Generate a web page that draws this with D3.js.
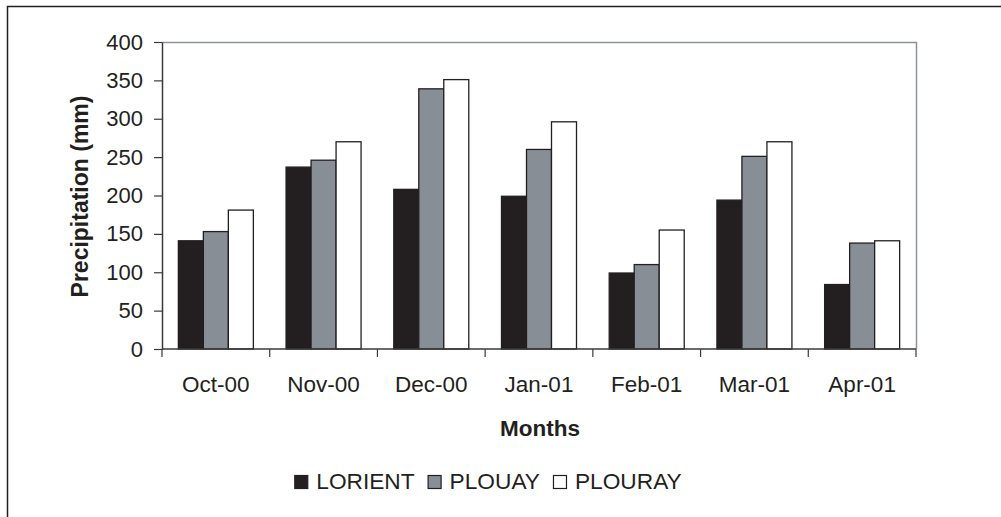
<!DOCTYPE html>
<html>
<head>
  <meta charset="utf-8">
  <script src="https://d3js.org/d3.v7.min.js"></script>
  <style>
    body { margin: 0; background: #fff; }
    text { font-family: "Liberation Sans", Arial, Helvetica, sans-serif; fill: #231f20; }
  </style>
</head>
<body>
  <div id="container"></div>
  <script>
    var months = ["Oct-00", "Nov-00", "Dec-00", "Jan-01", "Feb-01", "Mar-01", "Apr-01"];
    var series = ["LORIENT", "PLOUAY", "PLOURAY"];
    var lorient = [141, 237, 208, 199, 99, 194, 84];
    var plouay = [153, 246, 339, 260, 110, 251, 138];
    var plouray = [181, 270, 351, 296, 155, 270, 141];
    var yTicks = [0, 50, 100, 150, 200, 250, 300, 350, 400];

    var values = [lorient, plouay, plouray];
    var colors = ["#231f20", "#878e96", "#ffffff"];

    var w = 1001, h = 517;
    var pLeft = 162, pRight = 916, pTop = 42, pBottom = 349;
    var ink = "#231f20";

    var svg = d3.select("#container").append("svg")
      .attr("width", w).attr("height", h);

    // outer frame (top + left only visible)
    svg.append("path")
      .attr("d", "M7.5," + h + "V6.5H" + w)
      .attr("fill", "none").attr("stroke", ink).attr("stroke-width", 1.5);

    var x0 = d3.scaleBand().domain(months).range([pLeft, pRight]);
    var x1 = d3.scaleBand().domain(series).range([0, x0.bandwidth()]).paddingOuter(0.654);
    var y = d3.scaleLinear().domain([0, 400]).range([pBottom, pTop]);

    // plot area border top/right (grey)
    svg.append("path")
      .attr("d", "M" + pLeft + "," + (pTop + 0.5) + "H" + (pRight + 0.5) + "V" + pBottom)
      .attr("fill", "none").attr("stroke", "#8d949b").attr("stroke-width", 1.5);

    // bars
    var groups = svg.append("g").selectAll("g")
      .data(months)
      .join("g")
      .attr("transform", function(d) { return "translate(" + x0(d) + ",0)"; });

    groups.selectAll("rect")
      .data(function(d, i) {
        return series.map(function(s, j) { return { s: s, v: values[j][i], c: colors[j] }; });
      })
      .join("rect")
      .attr("x", function(d) { return x1(d.s); })
      .attr("y", function(d) { return y(d.v); })
      .attr("width", x1.bandwidth())
      .attr("height", function(d) { return y(0) - y(d.v); })
      .attr("fill", function(d) { return d.c; })
      .attr("stroke", ink)
      .attr("stroke-width", 1.3);

    // y axis
    var yAxis = svg.append("g")
      .attr("transform", "translate(" + pLeft + ",0)")
      .call(d3.axisLeft(y).tickValues(yTicks).tickSize(8).tickPadding(11).tickSizeOuter(0));
    yAxis.select(".domain").attr("stroke", "#3a3a3a").attr("stroke-width", 1.5);
    yAxis.selectAll(".tick line").attr("stroke", "#3a3a3a").attr("stroke-width", 1.2);
    yAxis.selectAll("text").style("font-size", "22px").attr("fill", ink)
      .style("font-family", "'Liberation Sans', Arial, sans-serif");

    // x axis: ticks at category boundaries
    var xAxis = svg.append("g").attr("transform", "translate(0," + pBottom + ")");
    xAxis.append("line")
      .attr("x1", pLeft).attr("x2", pRight)
      .attr("stroke", "#3a3a3a").attr("stroke-width", 1.5);
    var bounds = months.map(function(m) { return x0(m); }).concat([pRight]);
    xAxis.selectAll(".xt")
      .data(bounds)
      .join("line")
      .attr("class", "xt")
      .attr("x1", function(d) { return d; }).attr("x2", function(d) { return d; })
      .attr("y1", 0).attr("y2", 8)
      .attr("stroke", "#3a3a3a").attr("stroke-width", 1.2);
    xAxis.selectAll(".xl")
      .data(months)
      .join("text")
      .attr("class", "xl")
      .attr("x", function(d) { return x0(d) + x0.bandwidth() / 2; })
      .attr("y", 43)
      .attr("text-anchor", "middle")
      .style("font-size", "22.5px")
      .text(function(d) { return d; });

    // axis titles
    svg.append("text")
      .attr("transform", "translate(88," + ((pTop + pBottom) / 2 + 1) + ") rotate(-90)")
      .attr("text-anchor", "middle")
      .style("font-size", "23px").style("font-weight", "bold")
      .text("Precipitation (mm)");

    svg.append("text")
      .attr("x", (pLeft + pRight) / 2 + 1)
      .attr("y", 436)
      .attr("text-anchor", "middle")
      .style("font-size", "22.5px").style("font-weight", "bold")
      .text("Months");

    // legend
    var legend = svg.append("g");
    var lx = 0;
    series.forEach(function(s, i) {
      legend.append("rect")
        .attr("x", lx + 0.5).attr("y", 475.5)
        .attr("width", 13).attr("height", 13)
        .attr("fill", colors[i]).attr("stroke", ink).attr("stroke-width", 1.2);
      var t = legend.append("text")
        .attr("x", lx + 22).attr("y", 489)
        .style("font-size", "22.7px")
        .text(s);
      lx += 22 + t.node().getComputedTextLength() + 13;
    });
    lx -= 13;
    legend.attr("transform", "translate(" + (488 - lx / 2) + ",0)");
  </script>
</body>
</html>
